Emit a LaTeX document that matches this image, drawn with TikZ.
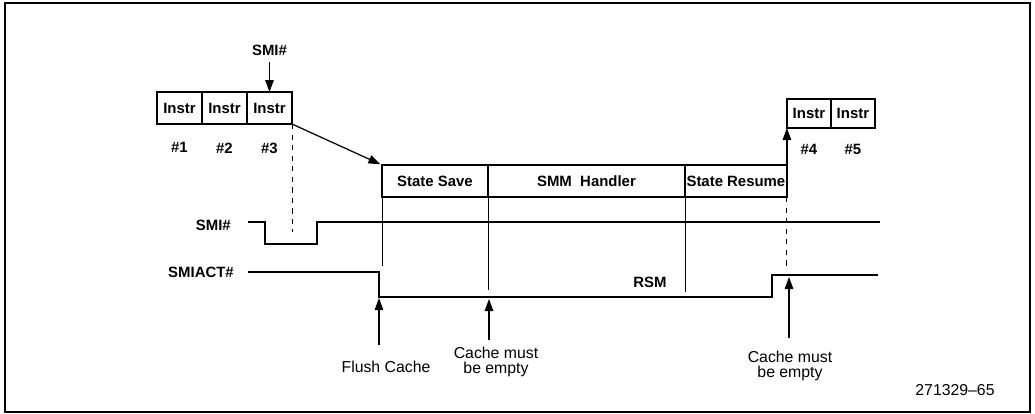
\documentclass[tikz,border=0pt]{standalone}
\usepackage{fontspec}
\setmainfont{Liberation Sans}
\usetikzlibrary{arrows.meta,positioning}

\begin{document}
\begin{tikzpicture}[
  x=0.02cm, y=-0.02cm,
  font=\fontsize{8.5}{9}\selectfont\bfseries,
  cell/.style={draw, line width=1.2pt, outer sep=0pt, inner sep=0pt, minimum width=9mm, minimum height=6.4mm},
  cellsm/.style={draw, line width=0.8pt, outer sep=0pt, inner sep=0pt, minimum width=8.8mm, minimum height=5.8mm},
  phase/.style={cell, minimum height=6.4mm},
  sig/.style={anchor=east, font=\fontsize{8.5}{9}\selectfont\bfseries},
  wave/.style={line width=1.5pt, line join=miter},
  guide/.style={line width=0.5pt},
  arr/.style={-{Triangle[length=2.4mm,width=1.7mm]}, line width=0.7pt},
  lbl/.style={align=center, font=\fontsize{9}{8.5}\selectfont\mdseries}
]
\useasboundingbox (0,0) rectangle (1035,413);
\draw[line width=1pt] (5,3) rectangle (1030,412);

% instructions before SMI#
\node[cell, anchor=north west] (i1) at (157,92) {Instr};
\node[cell, right=0pt of i1] (i2) {Instr};
\node[cell, right=0pt of i2] (i3) {Instr};
\node[below=2.5mm of i1] (n1) {\#1};
\node[below=2.5mm of i2] (n2) {\#2};
\node[below=2.5mm of i3] (n3) {\#3};
\node[above=6mm of i3] (smitop) {SMI\#};
\draw[arr] (smitop) -- (i3.north);
\draw[guide, dashed] (i3.south east) -- ++(0,108);

% SMM phases
\node[phase, anchor=north west, minimum width=21.2mm] (save) at (382,165) {State Save};
\node[phase, right=0pt of save, minimum width=39.4mm] (smm) {SMM~~Handler};
\node[phase, right=0pt of smm, minimum width=20.4mm] (resume) {State Resume};
\draw[arr, shorten >=1pt] (i3.south east) -- (save.north west);

% instructions after RSM
\node[cellsm, anchor=south west] (i4) at ([yshift=7.4mm]resume.north east) {Instr};
\node[cellsm, right=0pt of i4] (i5) {Instr};
\node[below=2mm of i4] (n4) {\#4};
\node[below=2mm of i5] (n5) {\#5};
\draw[arr] (resume.north east) -- (i4.south west);

% guide lines
\draw[guide] (save.south west) -- ++(0,69);
\draw[guide] (smm.south west) -- ++(0,93);
\draw[guide] (resume.south west) -- ++(0,95);
\draw[guide, dashed] (resume.south east) -- ++(0,70);

% signals
\node[sig] (smilbl) at (237,225) {SMI\#};
\draw[wave] (248,222) -| (265,244) -| (317,222) -- (880,222);
\node[sig] (actlbl) at (240,272) {SMIACT\#};
\draw[wave] (248,272) -| (379,297) -- (772,297) |- (878,275);
\node (rsm) at (650,282) {RSM};

% events
\coordinate (flushtip) at (379,298);
\coordinate (flushtail) at (379,345);
\coordinate (emptytip) at (489,299);
\coordinate (emptytail) at (489,340);
\coordinate (endtip) at (789,277);
\coordinate (endtail) at (789,338);
\draw[arr] (flushtail) -- (flushtip);
\draw[arr] (emptytail) -- (emptytip);
\draw[arr] (endtail) -- (endtip);
\node[lbl] (flush) at (386,367) {Flush Cache};
\node[lbl] (empty1) at (496,362) {Cache must\\be empty};
\node[lbl] (empty2) at (790,366) {Cache must\\be empty};

\node[lbl] (fig) at (955,390) {271329--65};
\end{tikzpicture}
\end{document}
